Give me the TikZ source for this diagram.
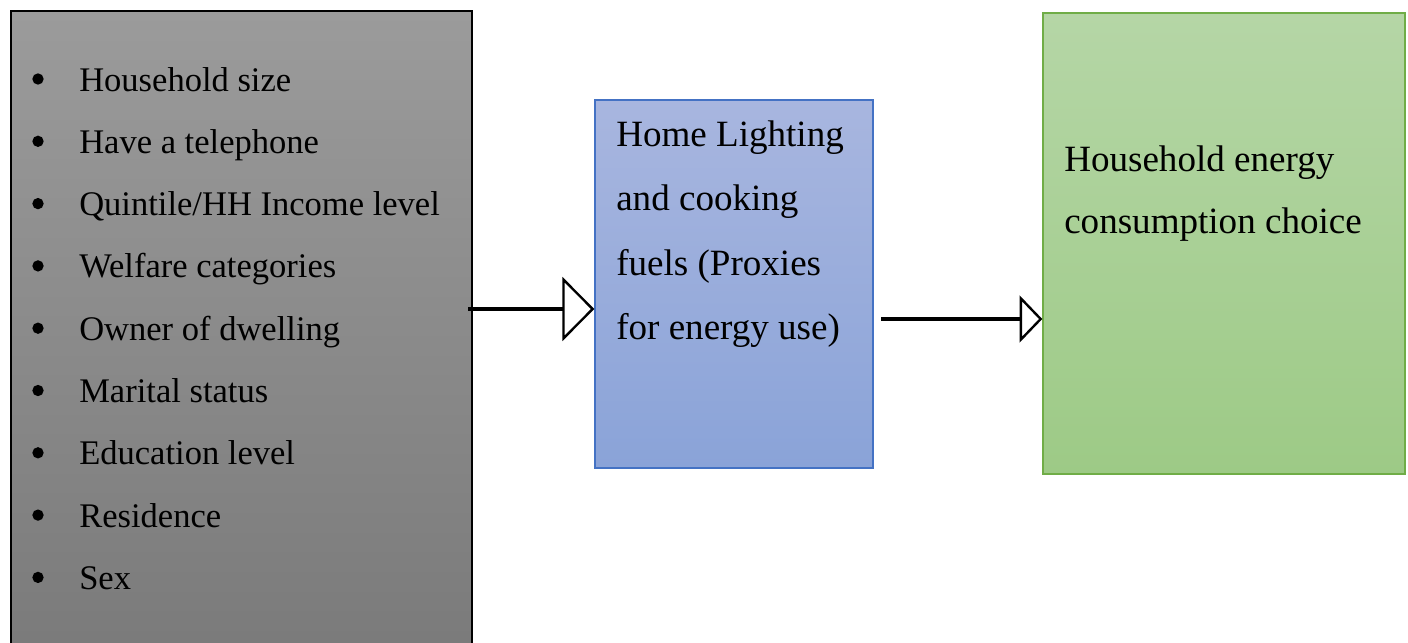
\documentclass[tikz,border=0pt]{standalone}
\usepackage{fontspec}
\setmainfont{Liberation Serif}
\usetikzlibrary{fit,arrows.meta}
\begin{document}
\begin{tikzpicture}[x=0.75pt,y=-0.75pt,
  box/.style={inner sep=0pt, line width=1pt},
  txt/.style={anchor=base west, inner sep=0pt, font=\fontsize{25.9}{30}\selectfont},
  txtb/.style={anchor=base west, inner sep=0pt, font=\fontsize{27.8}{32}\selectfont},
  bul/.style={circle, fill=black, inner sep=0pt, minimum size=8.5pt},
  conn/.style={line width=2.4pt, -{Triangle[open, length=24pt, width=48pt, line width=1.8pt]}},
  conn2/.style={line width=2.4pt, -{Triangle[open, length=17pt, width=35pt, line width=1.8pt]}}]
\useasboundingbox (0,0) rectangle (1408,642);
\definecolor{gtop}{HTML}{9B9B9B}\definecolor{gbot}{HTML}{7A7A7A}
\definecolor{btop}{HTML}{A8B6DF}\definecolor{bbot}{HTML}{8AA3D8}\definecolor{bline}{HTML}{4472C4}
\definecolor{ntop}{HTML}{B5D6A6}\definecolor{nbot}{HTML}{9DCA86}\definecolor{nline}{HTML}{70AD47}
\node[box, fit={(11,11) (472,660)}, draw=black, top color=gtop, bottom color=gbot] (grey) {};
\node[box, fit={(595,100) (873,468)}, draw=bline, top color=btop, bottom color=bbot] (blue) {};
\node[box, fit={(1043,13) (1405,474)}, draw=nline, top color=ntop, bottom color=nbot] (green) {};
\foreach \t [count=\i] in {Household size,Have a telephone,Quintile/HH Income level,Welfare categories,Owner of dwelling,Marital status,Education level,Residence,Sex}{
  \node[bul] (b\i) at (38,{79+62.3*(\i-1)}) {};
  \node[txt] (t\i) at (79,{91+62.3*(\i-1)}) {\t};
}
\node[txtb] (h1) at (616,146) {Home Lighting};
\node[txtb] (h2) at (616,210) {and cooking};
\node[txtb] (h3) at (616,275) {fuels (Proxies};
\node[txtb] (h4) at (616,339) {for energy use)};
\node[txtb] (e1) at (1064,171) {Household energy};
\node[txtb] (e2) at (1064,233) {consumption choice};
\coordinate (a1s) at (468,309);
\coordinate (a2s) at (881,319);
\draw[conn] (a1s) -- (a1s -| blue.west);
\draw[conn2] (a2s) -- (a2s -| green.west);
\end{tikzpicture}
\end{document}
